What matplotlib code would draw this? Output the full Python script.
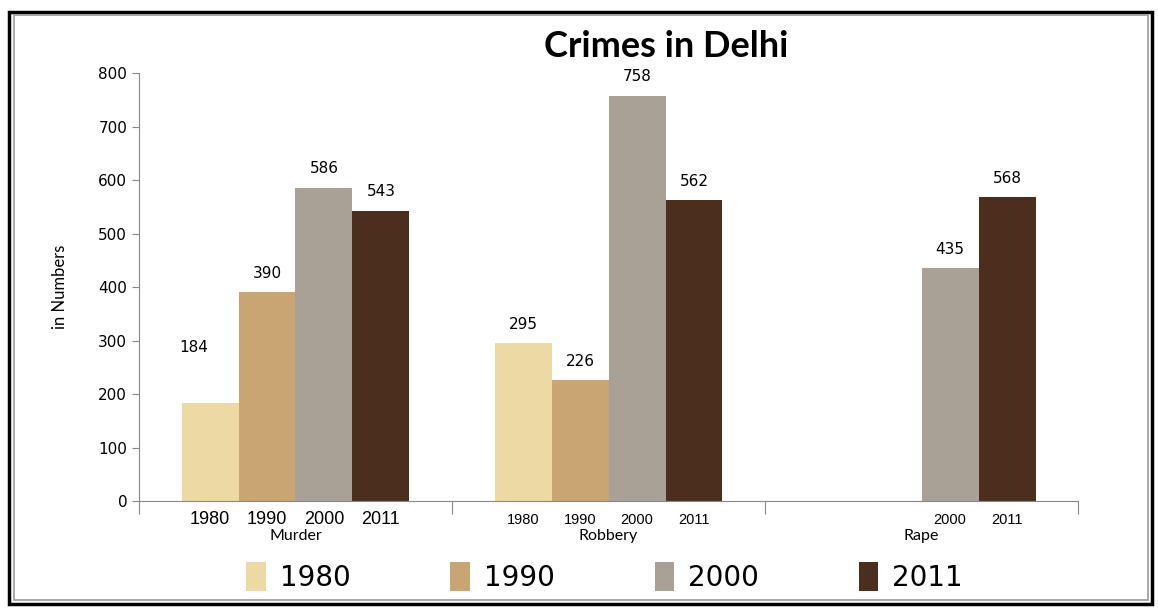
import numpy as np
import matplotlib
matplotlib.use("Agg")
import matplotlib.pyplot as plt
import matplotlib.transforms as mtrans
from matplotlib.patches import Rectangle

crimes = ["Murder", "Robbery", "Rape"]
years = ["1980", "1990", "2000", "2011"]
v1980 = [184, 295, np.nan]
v1990 = [390, 226, np.nan]
v2000 = [586, 758, 435]
v2011 = [543, 562, 568]
series = [v1980, v1990, v2000, v2011]

colors = ["#EDD9A3", "#C8A572", "#A9A196", "#4B2E1D"]

fig = plt.figure(figsize=(11.58, 6.14), dpi=100)
ax = fig.add_axes([0.120, 0.184, 0.811, 0.697])

w = 0.182
x = np.arange(len(crimes))
for i, vals in enumerate(series):
    pos = x + (i - 1.5) * w
    ax.bar(pos, np.nan_to_num(vals), width=w, color=colors[i], edgecolor="none", label=years[i])
    for p, v in zip(pos, vals):
        if np.isnan(v):
            continue
        dx, dy = 0, 8
        if v == 184:
            dx, dy = -12, 34
        ax.annotate(str(int(v)), (p, v), xytext=(dx, dy), textcoords="offset points",
                    ha="center", va="bottom", fontsize=11, family="DejaVu Sans")

ax.set_ylim(0, 800)
ax.set_xlim(-0.5, 2.5)
ax.set_yticks(np.arange(0, 801, 100))
ax.tick_params(axis="y", labelsize=11, length=5, color="#888888")
ax.set_xticks([-0.5, 0.5, 1.5, 2.5])
ax.set_xticklabels([])
ax.tick_params(axis="x", length=9, color="#888888", direction="out")
for s in ["top", "right"]:
    ax.spines[s].set_visible(False)
for s in ["left", "bottom"]:
    ax.spines[s].set_color("#888888")
ax.set_ylabel("in Numbers", fontsize=12, family="Lato", labelpad=22)

# year labels under bars and category names
tr = mtrans.blended_transform_factory(ax.transData, ax.transAxes)
for ci, name in enumerate(crimes):
    big = ci == 0
    for i, yr in enumerate(years):
        if np.isnan(series[i][ci]):
            continue
        fs = 13 if big else 10.5
        ax.text(ci + (i - 1.5) * w, -0.044, yr, transform=tr, ha="center", va="center",
                fontsize=fs, family="Liberation Sans")
    ax.text(ci, -0.082, name, transform=tr, ha="center", va="center", fontsize=11.5, family="Lato")

fig.text(0.575, 0.925, "Crimes in Delhi", ha="center", va="center", fontsize=26,
         fontweight="bold", family="Lato")

leg = fig.legend(loc="center", bbox_to_anchor=(0.522, 0.060), ncol=4, frameon=False,
                 fontsize=20, handlelength=0.7, handleheight=1.2, columnspacing=3.6,
                 handletextpad=0.5)

fig.patches.append(Rectangle((0.008, 0.017), 0.987, 0.963, transform=fig.transFigure,
                             fill=False, edgecolor="black", linewidth=2.5))
fig.patches.append(Rectangle((0.012, 0.022), 0.979, 0.953, transform=fig.transFigure,
                             fill=False, edgecolor="#999999", linewidth=1.2))

fig.savefig("out.png", dpi=100)
